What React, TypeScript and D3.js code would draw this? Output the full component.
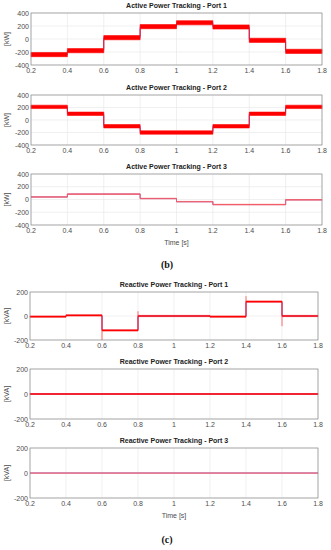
import * as d3 from "d3";

// segment boundaries (s) and step levels for each port
const TIMES = [0.2, 0.4, 0.6, 0.8, 1.0, 1.2, 1.4, 1.6, 1.8];
const X_TICKS = [0.2, 0.4, 0.6, 0.8, 1, 1.2, 1.4, 1.6, 1.8];

const activeP1 = [-240, -180, 20, 190, 250, 185, -20, -190];
const activeP2 = [210, 100, -100, -200, -200, -100, 100, 210];
const activeP3 = [40, 85, 85, 15, -35, -80, -80, -5];
const reactiveQ1 = [-5, 5, -120, 0, 0, -5, 120, 0];
const reactiveQ2 = [0, 0, 0, 0, 0, 0, 0, 0];
const reactiveQ3 = [0, 0, 0, 0, 0, 0, 0, 0];

// ripple half-width of the measured signal band
const bandActive = [32, 27, 5];
const bandReactive = [5, 4, 1];

// transients at the step changes of reactive port 1
const spikesQ1 = [
  { t: 0.6, v: -200 },
  { t: 0.8, v: 40 },
  { t: 1.4, v: 165 },
  { t: 1.6, v: -85 },
];

const activeTicks = [-400, -200, 0, 200, 400];
const reactiveTicks = [-200, 0, 200];

const FONT = "'Liberation Sans', Arial, sans-serif";
const TICK_COLOR = "#4d4d4d";

type Panel = {
  title: string;
  unit: string;
  levels: number[];
  band: number;
  top: number;
  bottom: number;
  left: number;
  right: number;
  domain: [number, number];
  ticks: number[];
  bandColor: string;
  timeLabel?: boolean;
  spikes?: { t: number; v: number }[];
};

const panels: Panel[] = [
  { title: "Active Power Tracking - Port 1", unit: "[kW]", levels: activeP1, band: bandActive[0], top: 13, bottom: 65, left: 31, right: 322, domain: [-400, 400], ticks: activeTicks, bandColor: "#ff0000" },
  { title: "Active Power Tracking - Port 2", unit: "[kW]", levels: activeP2, band: bandActive[1], top: 95, bottom: 145, left: 31, right: 322, domain: [-400, 400], ticks: activeTicks, bandColor: "#ff0000" },
  { title: "Active Power Tracking - Port 3", unit: "[kW]", levels: activeP3, band: bandActive[2], top: 174, bottom: 225, left: 31, right: 322, domain: [-400, 400], ticks: activeTicks, bandColor: "#ff5a5a", timeLabel: true },
  { title: "Reactive Power Tracking - Port 1", unit: "[kVA]", levels: reactiveQ1, band: bandReactive[0], top: 292, bottom: 340, left: 30, right: 318, domain: [-200, 200], ticks: reactiveTicks, bandColor: "#ff0000", spikes: spikesQ1 },
  { title: "Reactive Power Tracking - Port 2", unit: "[kVA]", levels: reactiveQ2, band: bandReactive[1], top: 369, bottom: 419, left: 30, right: 318, domain: [-200, 200], ticks: reactiveTicks, bandColor: "#ff0000" },
  { title: "Reactive Power Tracking - Port 3", unit: "[kVA]", levels: reactiveQ3, band: bandReactive[2], top: 448, bottom: 498, left: 30, right: 318, domain: [-200, 200], ticks: reactiveTicks, bandColor: "#ff6060", timeLabel: true },
];

function PanelChart({ p }: { p: Panel }) {
  const x = d3.scaleLinear().domain([0.2, 1.8]).range([p.left, p.right]);
  const y = d3.scaleLinear().domain(p.domain).range([p.bottom, p.top]);

  // step points: one per segment start plus the final end
  const pts = p.levels.map((v, i) => ({ t: TIMES[i], v }));
  pts.push({ t: TIMES[TIMES.length - 1], v: p.levels[p.levels.length - 1] });

  const line = d3
    .line<{ t: number; v: number }>()
    .x((d) => x(d.t))
    .y((d) => y(d.v))
    .curve(d3.curveStepAfter);

  const area = d3
    .area<{ t: number; v: number }>()
    .x((d) => x(d.t))
    .y0((d) => y(d.v - p.band))
    .y1((d) => y(d.v + p.band))
    .curve(d3.curveStepAfter);

  const midY = (p.top + p.bottom) / 2;

  return (
    <g>
      <text x={(p.left + p.right) / 2} y={p.top - 5} textAnchor="middle" fontSize={7} fontWeight="bold" fill="#222">
        {p.title}
      </text>
      <rect x={p.left} y={p.top} width={p.right - p.left} height={p.bottom - p.top} fill="#fff" />
      {X_TICKS.map((t) => (
        <line key={"gx" + t} x1={x(t)} x2={x(t)} y1={p.top} y2={p.bottom} stroke="#e6e6e6" strokeWidth={0.6} />
      ))}
      {p.ticks.map((t) => (
        <line key={"gy" + t} x1={p.left} x2={p.right} y1={y(t)} y2={y(t)} stroke="#e6e6e6" strokeWidth={0.6} />
      ))}
      <path d={line(pts) ?? ""} fill="none" stroke="#4a4aff" strokeWidth={0.9} opacity={0.85} />
      <path d={area(pts) ?? ""} fill={p.bandColor} stroke={p.bandColor} strokeWidth={0.6} />
      {p.spikes?.map((s, i) => {
        const idx = TIMES.indexOf(s.t);
        const base = p.levels[idx];
        return <line key={"sp" + i} x1={x(s.t)} x2={x(s.t)} y1={y(base)} y2={y(s.v)} stroke="#ff3030" strokeWidth={1} opacity={0.7} />;
      })}
      <rect x={p.left} y={p.top} width={p.right - p.left} height={p.bottom - p.top} fill="none" stroke="#8a8a8a" strokeWidth={0.7} />
      {X_TICKS.map((t) => (
        <text key={"xt" + t} x={x(t)} y={p.bottom + 8} textAnchor="middle" fontSize={7} fill={TICK_COLOR}>
          {d3.format("")(t)}
        </text>
      ))}
      {p.ticks.map((t) => (
        <text key={"yt" + t} x={p.left - 2} y={y(t) + 2.5} textAnchor="end" fontSize={7} fill={TICK_COLOR}>
          {t}
        </text>
      ))}
      <text transform={`translate(9,${midY}) rotate(-90)`} textAnchor="middle" fontSize={7} fill={TICK_COLOR}>
        {p.unit}
      </text>
      {p.timeLabel && (
        <text x={(p.left + p.right) / 2} y={p.bottom + 20} textAnchor="middle" fontSize={7} fill={TICK_COLOR}>
          Time [s]
        </text>
      )}
    </g>
  );
}

export default function App() {
  return (
    <svg width={331} height={550} style={{ position: "absolute", left: 0, top: 0, background: "#fff" }} fontFamily={FONT}>
      <rect width={331} height={550} fill="#fff" />
      {panels.map((p) => (
        <PanelChart key={p.title} p={p} />
      ))}
      <text x={167} y={268} textAnchor="middle" fontSize={10} fontWeight="bold" fontFamily="'Liberation Serif', serif" fill="#111">
        (b)
      </text>
      <text x={167} y={543} textAnchor="middle" fontSize={10} fontWeight="bold" fontFamily="'Liberation Serif', serif" fill="#111">
        (c)
      </text>
    </svg>
  );
}
